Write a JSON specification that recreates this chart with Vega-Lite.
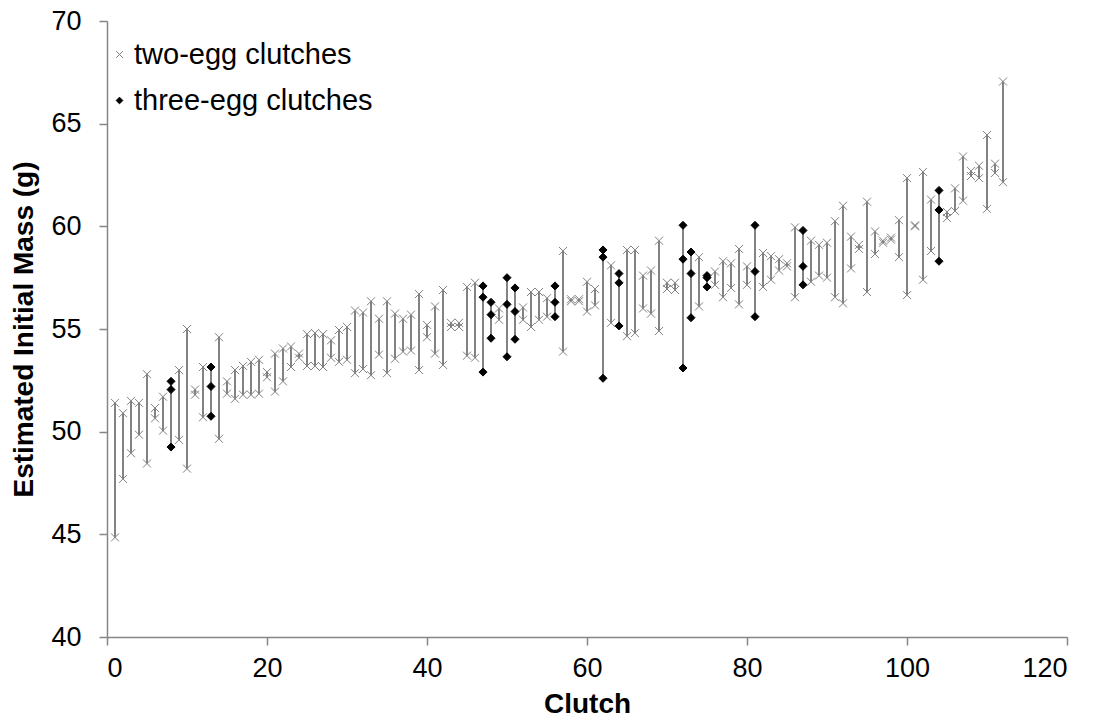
{
  "$schema": "https://vega.github.io/schema/vega-lite/v6.json",
  "width": 960,
  "height": 616,
  "autosize": {"type": "none"},
  "padding": {"left": 107, "top": 21, "right": 27, "bottom": 81},
  "background": "white",
  "config": {
    "view": {"stroke": null},
    "font": "Liberation Sans",
    "axis": {
      "grid": false,
      "domainColor": "#868686",
      "domainWidth": 1.5,
      "tickColor": "#868686",
      "tickWidth": 1.5,
      "tickSize": 8,
      "labelFont": "Liberation Sans",
      "labelFontSize": 27,
      "labelColor": "#000000",
      "titleFont": "Liberation Sans",
      "titleFontSize": 28,
      "titleFontWeight": "bold",
      "titleColor": "#000000"
    },
    "legend": {
      "labelFont": "Liberation Sans",
      "labelFontSize": 29,
      "labelColor": "#000000",
      "labelLimit": 0
    }
  },
  "data": {"values": [
    {"clutch":1,"mass":51.4,"type":"two-egg clutches"},{"clutch":1,"mass":44.85,"type":"two-egg clutches"},
    {"clutch":2,"mass":50.9,"type":"two-egg clutches"},{"clutch":2,"mass":47.7,"type":"two-egg clutches"},
    {"clutch":3,"mass":51.5,"type":"two-egg clutches"},{"clutch":3,"mass":48.95,"type":"two-egg clutches"},
    {"clutch":4,"mass":51.4,"type":"two-egg clutches"},{"clutch":4,"mass":49.85,"type":"two-egg clutches"},
    {"clutch":5,"mass":52.8,"type":"two-egg clutches"},{"clutch":5,"mass":48.45,"type":"two-egg clutches"},
    {"clutch":6,"mass":51.15,"type":"two-egg clutches"},{"clutch":6,"mass":50.65,"type":"two-egg clutches"},
    {"clutch":7,"mass":51.7,"type":"two-egg clutches"},{"clutch":7,"mass":50.05,"type":"two-egg clutches"},
    {"clutch":8,"mass":52.45,"type":"three-egg clutches"},{"clutch":8,"mass":52.05,"type":"three-egg clutches"},{"clutch":8,"mass":49.25,"type":"three-egg clutches"},
    {"clutch":9,"mass":53.0,"type":"two-egg clutches"},{"clutch":9,"mass":49.6,"type":"two-egg clutches"},
    {"clutch":10,"mass":55.0,"type":"two-egg clutches"},{"clutch":10,"mass":48.2,"type":"two-egg clutches"},
    {"clutch":11,"mass":52.05,"type":"two-egg clutches"},{"clutch":11,"mass":51.8,"type":"two-egg clutches"},
    {"clutch":12,"mass":53.15,"type":"two-egg clutches"},{"clutch":12,"mass":50.7,"type":"two-egg clutches"},
    {"clutch":13,"mass":53.15,"type":"three-egg clutches"},{"clutch":13,"mass":52.2,"type":"three-egg clutches"},{"clutch":13,"mass":50.75,"type":"three-egg clutches"},
    {"clutch":14,"mass":54.6,"type":"two-egg clutches"},{"clutch":14,"mass":49.65,"type":"two-egg clutches"},
    {"clutch":15,"mass":52.45,"type":"two-egg clutches"},{"clutch":15,"mass":51.85,"type":"two-egg clutches"},
    {"clutch":16,"mass":53.0,"type":"two-egg clutches"},{"clutch":16,"mass":51.6,"type":"two-egg clutches"},
    {"clutch":17,"mass":53.2,"type":"two-egg clutches"},{"clutch":17,"mass":51.8,"type":"two-egg clutches"},
    {"clutch":18,"mass":53.4,"type":"two-egg clutches"},{"clutch":18,"mass":51.8,"type":"two-egg clutches"},
    {"clutch":19,"mass":53.5,"type":"two-egg clutches"},{"clutch":19,"mass":51.85,"type":"two-egg clutches"},
    {"clutch":20,"mass":52.9,"type":"two-egg clutches"},{"clutch":20,"mass":52.65,"type":"two-egg clutches"},
    {"clutch":21,"mass":53.8,"type":"two-egg clutches"},{"clutch":21,"mass":51.95,"type":"two-egg clutches"},
    {"clutch":22,"mass":54.05,"type":"two-egg clutches"},{"clutch":22,"mass":52.45,"type":"two-egg clutches"},
    {"clutch":23,"mass":54.15,"type":"two-egg clutches"},{"clutch":23,"mass":53.15,"type":"two-egg clutches"},
    {"clutch":24,"mass":53.8,"type":"two-egg clutches"},{"clutch":24,"mass":53.6,"type":"two-egg clutches"},
    {"clutch":25,"mass":54.75,"type":"two-egg clutches"},{"clutch":25,"mass":53.2,"type":"two-egg clutches"},
    {"clutch":26,"mass":54.8,"type":"two-egg clutches"},{"clutch":26,"mass":53.2,"type":"two-egg clutches"},
    {"clutch":27,"mass":54.75,"type":"two-egg clutches"},{"clutch":27,"mass":53.15,"type":"two-egg clutches"},
    {"clutch":28,"mass":54.45,"type":"two-egg clutches"},{"clutch":28,"mass":53.6,"type":"two-egg clutches"},
    {"clutch":29,"mass":54.95,"type":"two-egg clutches"},{"clutch":29,"mass":53.4,"type":"two-egg clutches"},
    {"clutch":30,"mass":55.1,"type":"two-egg clutches"},{"clutch":30,"mass":53.5,"type":"two-egg clutches"},
    {"clutch":31,"mass":55.9,"type":"two-egg clutches"},{"clutch":31,"mass":52.85,"type":"two-egg clutches"},
    {"clutch":32,"mass":55.8,"type":"two-egg clutches"},{"clutch":32,"mass":53.05,"type":"two-egg clutches"},
    {"clutch":33,"mass":56.35,"type":"two-egg clutches"},{"clutch":33,"mass":52.75,"type":"two-egg clutches"},
    {"clutch":34,"mass":55.5,"type":"two-egg clutches"},{"clutch":34,"mass":53.75,"type":"two-egg clutches"},
    {"clutch":35,"mass":56.35,"type":"two-egg clutches"},{"clutch":35,"mass":52.85,"type":"two-egg clutches"},
    {"clutch":36,"mass":55.75,"type":"two-egg clutches"},{"clutch":36,"mass":53.55,"type":"two-egg clutches"},
    {"clutch":37,"mass":55.5,"type":"two-egg clutches"},{"clutch":37,"mass":53.9,"type":"two-egg clutches"},
    {"clutch":38,"mass":55.7,"type":"two-egg clutches"},{"clutch":38,"mass":53.95,"type":"two-egg clutches"},
    {"clutch":39,"mass":56.7,"type":"two-egg clutches"},{"clutch":39,"mass":53.0,"type":"two-egg clutches"},
    {"clutch":40,"mass":55.2,"type":"two-egg clutches"},{"clutch":40,"mass":54.6,"type":"two-egg clutches"},
    {"clutch":41,"mass":56.1,"type":"two-egg clutches"},{"clutch":41,"mass":53.8,"type":"two-egg clutches"},
    {"clutch":42,"mass":56.9,"type":"two-egg clutches"},{"clutch":42,"mass":53.25,"type":"two-egg clutches"},
    {"clutch":43,"mass":55.3,"type":"two-egg clutches"},{"clutch":43,"mass":55.1,"type":"two-egg clutches"},
    {"clutch":44,"mass":55.3,"type":"two-egg clutches"},{"clutch":44,"mass":55.1,"type":"two-egg clutches"},
    {"clutch":45,"mass":57.05,"type":"two-egg clutches"},{"clutch":45,"mass":53.7,"type":"two-egg clutches"},
    {"clutch":46,"mass":57.25,"type":"two-egg clutches"},{"clutch":46,"mass":53.6,"type":"two-egg clutches"},
    {"clutch":47,"mass":57.1,"type":"three-egg clutches"},{"clutch":47,"mass":56.55,"type":"three-egg clutches"},{"clutch":47,"mass":52.9,"type":"three-egg clutches"},
    {"clutch":48,"mass":56.3,"type":"three-egg clutches"},{"clutch":48,"mass":55.7,"type":"three-egg clutches"},{"clutch":48,"mass":54.55,"type":"three-egg clutches"},
    {"clutch":49,"mass":56.0,"type":"two-egg clutches"},{"clutch":49,"mass":55.45,"type":"two-egg clutches"},
    {"clutch":50,"mass":57.5,"type":"three-egg clutches"},{"clutch":50,"mass":56.2,"type":"three-egg clutches"},{"clutch":50,"mass":53.65,"type":"three-egg clutches"},
    {"clutch":51,"mass":57.0,"type":"three-egg clutches"},{"clutch":51,"mass":55.85,"type":"three-egg clutches"},{"clutch":51,"mass":54.5,"type":"three-egg clutches"},
    {"clutch":52,"mass":56.05,"type":"two-egg clutches"},{"clutch":52,"mass":55.45,"type":"two-egg clutches"},
    {"clutch":53,"mass":56.8,"type":"two-egg clutches"},{"clutch":53,"mass":55.1,"type":"two-egg clutches"},
    {"clutch":54,"mass":56.8,"type":"two-egg clutches"},{"clutch":54,"mass":55.45,"type":"two-egg clutches"},
    {"clutch":55,"mass":56.5,"type":"two-egg clutches"},{"clutch":55,"mass":55.6,"type":"two-egg clutches"},
    {"clutch":56,"mass":57.1,"type":"three-egg clutches"},{"clutch":56,"mass":56.3,"type":"three-egg clutches"},{"clutch":56,"mass":55.6,"type":"three-egg clutches"},
    {"clutch":57,"mass":58.8,"type":"two-egg clutches"},{"clutch":57,"mass":53.9,"type":"two-egg clutches"},
    {"clutch":58,"mass":56.45,"type":"two-egg clutches"},{"clutch":58,"mass":56.35,"type":"two-egg clutches"},
    {"clutch":59,"mass":56.45,"type":"two-egg clutches"},{"clutch":59,"mass":56.35,"type":"two-egg clutches"},
    {"clutch":60,"mass":57.3,"type":"two-egg clutches"},{"clutch":60,"mass":55.85,"type":"two-egg clutches"},
    {"clutch":61,"mass":56.95,"type":"two-egg clutches"},{"clutch":61,"mass":56.15,"type":"two-egg clutches"},
    {"clutch":62,"mass":58.85,"type":"three-egg clutches"},{"clutch":62,"mass":58.5,"type":"three-egg clutches"},{"clutch":62,"mass":52.6,"type":"three-egg clutches"},
    {"clutch":63,"mass":58.1,"type":"two-egg clutches"},{"clutch":63,"mass":55.3,"type":"two-egg clutches"},
    {"clutch":64,"mass":57.7,"type":"three-egg clutches"},{"clutch":64,"mass":57.25,"type":"three-egg clutches"},{"clutch":64,"mass":55.15,"type":"three-egg clutches"},
    {"clutch":65,"mass":58.85,"type":"two-egg clutches"},{"clutch":65,"mass":54.65,"type":"two-egg clutches"},
    {"clutch":66,"mass":58.85,"type":"two-egg clutches"},{"clutch":66,"mass":54.8,"type":"two-egg clutches"},
    {"clutch":67,"mass":57.6,"type":"two-egg clutches"},{"clutch":67,"mass":56.0,"type":"two-egg clutches"},
    {"clutch":68,"mass":57.85,"type":"two-egg clutches"},{"clutch":68,"mass":55.75,"type":"two-egg clutches"},
    {"clutch":69,"mass":59.3,"type":"two-egg clutches"},{"clutch":69,"mass":54.9,"type":"two-egg clutches"},
    {"clutch":70,"mass":57.25,"type":"two-egg clutches"},{"clutch":70,"mass":56.95,"type":"two-egg clutches"},
    {"clutch":71,"mass":57.25,"type":"two-egg clutches"},{"clutch":71,"mass":56.9,"type":"two-egg clutches"},
    {"clutch":72,"mass":60.05,"type":"three-egg clutches"},{"clutch":72,"mass":58.4,"type":"three-egg clutches"},{"clutch":72,"mass":53.1,"type":"three-egg clutches"},
    {"clutch":73,"mass":58.75,"type":"three-egg clutches"},{"clutch":73,"mass":57.7,"type":"three-egg clutches"},{"clutch":73,"mass":55.55,"type":"three-egg clutches"},
    {"clutch":74,"mass":58.5,"type":"two-egg clutches"},{"clutch":74,"mass":56.1,"type":"two-egg clutches"},
    {"clutch":75,"mass":57.6,"type":"three-egg clutches"},{"clutch":75,"mass":57.5,"type":"three-egg clutches"},{"clutch":75,"mass":57.05,"type":"three-egg clutches"},
    {"clutch":76,"mass":57.8,"type":"two-egg clutches"},{"clutch":76,"mass":57.15,"type":"two-egg clutches"},
    {"clutch":77,"mass":58.3,"type":"two-egg clutches"},{"clutch":77,"mass":56.55,"type":"two-egg clutches"},
    {"clutch":78,"mass":58.2,"type":"two-egg clutches"},{"clutch":78,"mass":57.0,"type":"two-egg clutches"},
    {"clutch":79,"mass":58.9,"type":"two-egg clutches"},{"clutch":79,"mass":56.2,"type":"two-egg clutches"},
    {"clutch":80,"mass":58.05,"type":"two-egg clutches"},{"clutch":80,"mass":57.15,"type":"two-egg clutches"},
    {"clutch":81,"mass":60.05,"type":"three-egg clutches"},{"clutch":81,"mass":57.8,"type":"three-egg clutches"},{"clutch":81,"mass":55.6,"type":"three-egg clutches"},
    {"clutch":82,"mass":58.7,"type":"two-egg clutches"},{"clutch":82,"mass":57.05,"type":"two-egg clutches"},
    {"clutch":83,"mass":58.55,"type":"two-egg clutches"},{"clutch":83,"mass":57.4,"type":"two-egg clutches"},
    {"clutch":84,"mass":58.4,"type":"two-egg clutches"},{"clutch":84,"mass":57.85,"type":"two-egg clutches"},
    {"clutch":85,"mass":58.2,"type":"two-egg clutches"},{"clutch":85,"mass":58.05,"type":"two-egg clutches"},
    {"clutch":86,"mass":59.95,"type":"two-egg clutches"},{"clutch":86,"mass":56.55,"type":"two-egg clutches"},
    {"clutch":87,"mass":59.8,"type":"three-egg clutches"},{"clutch":87,"mass":58.05,"type":"three-egg clutches"},{"clutch":87,"mass":57.15,"type":"three-egg clutches"},
    {"clutch":88,"mass":59.3,"type":"two-egg clutches"},{"clutch":88,"mass":57.3,"type":"two-egg clutches"},
    {"clutch":89,"mass":59.1,"type":"two-egg clutches"},{"clutch":89,"mass":57.6,"type":"two-egg clutches"},
    {"clutch":90,"mass":59.2,"type":"two-egg clutches"},{"clutch":90,"mass":57.5,"type":"two-egg clutches"},
    {"clutch":91,"mass":60.25,"type":"two-egg clutches"},{"clutch":91,"mass":56.55,"type":"two-egg clutches"},
    {"clutch":92,"mass":61.0,"type":"two-egg clutches"},{"clutch":92,"mass":56.25,"type":"two-egg clutches"},
    {"clutch":93,"mass":59.5,"type":"two-egg clutches"},{"clutch":93,"mass":57.95,"type":"two-egg clutches"},
    {"clutch":94,"mass":59.1,"type":"two-egg clutches"},{"clutch":94,"mass":58.9,"type":"two-egg clutches"},
    {"clutch":95,"mass":61.2,"type":"two-egg clutches"},{"clutch":95,"mass":56.8,"type":"two-egg clutches"},
    {"clutch":96,"mass":59.75,"type":"two-egg clutches"},{"clutch":96,"mass":58.65,"type":"two-egg clutches"},
    {"clutch":97,"mass":59.3,"type":"two-egg clutches"},{"clutch":97,"mass":59.2,"type":"two-egg clutches"},
    {"clutch":98,"mass":59.45,"type":"two-egg clutches"},{"clutch":98,"mass":59.35,"type":"two-egg clutches"},
    {"clutch":99,"mass":60.3,"type":"two-egg clutches"},{"clutch":99,"mass":58.5,"type":"two-egg clutches"},
    {"clutch":100,"mass":62.35,"type":"two-egg clutches"},{"clutch":100,"mass":56.65,"type":"two-egg clutches"},
    {"clutch":101,"mass":60.05,"type":"two-egg clutches"},{"clutch":101,"mass":60.0,"type":"two-egg clutches"},
    {"clutch":102,"mass":62.65,"type":"two-egg clutches"},{"clutch":102,"mass":57.4,"type":"two-egg clutches"},
    {"clutch":103,"mass":61.3,"type":"two-egg clutches"},{"clutch":103,"mass":58.8,"type":"two-egg clutches"},
    {"clutch":104,"mass":61.75,"type":"three-egg clutches"},{"clutch":104,"mass":60.8,"type":"three-egg clutches"},{"clutch":104,"mass":58.3,"type":"three-egg clutches"},
    {"clutch":105,"mass":60.7,"type":"two-egg clutches"},{"clutch":105,"mass":60.4,"type":"two-egg clutches"},
    {"clutch":106,"mass":61.85,"type":"two-egg clutches"},{"clutch":106,"mass":60.75,"type":"two-egg clutches"},
    {"clutch":107,"mass":63.4,"type":"two-egg clutches"},{"clutch":107,"mass":61.25,"type":"two-egg clutches"},
    {"clutch":108,"mass":62.7,"type":"two-egg clutches"},{"clutch":108,"mass":62.45,"type":"two-egg clutches"},
    {"clutch":109,"mass":62.95,"type":"two-egg clutches"},{"clutch":109,"mass":62.35,"type":"two-egg clutches"},
    {"clutch":110,"mass":64.45,"type":"two-egg clutches"},{"clutch":110,"mass":60.85,"type":"two-egg clutches"},
    {"clutch":111,"mass":63.05,"type":"two-egg clutches"},{"clutch":111,"mass":62.6,"type":"two-egg clutches"},
    {"clutch":112,"mass":67.05,"type":"two-egg clutches"},{"clutch":112,"mass":62.15,"type":"two-egg clutches"}
  ]},
  "layer": [
    {
      "transform": [
        {"aggregate": [{"op": "min", "field": "mass", "as": "lo"}, {"op": "max", "field": "mass", "as": "hi"}], "groupby": ["clutch"]}
      ],
      "mark": {"type": "rule", "strokeWidth": 1.2, "color": "#303030"},
      "encoding": {
        "x": {"field": "clutch", "type": "quantitative", "scale": {"domain": [0, 120], "nice": false}},
        "y": {"field": "lo", "type": "quantitative", "scale": {"domain": [40, 70], "nice": false}},
        "y2": {"field": "hi"}
      }
    },
    {
      "mark": {"type": "point", "strokeWidth": 1, "opacity": 1},
      "encoding": {
        "x": {"field": "clutch", "type": "quantitative", "scale": {"domain": [0, 120], "nice": false},
              "axis": {"title": "Clutch", "values": [0, 20, 40, 60, 80, 100, 120], "labelPadding": 10, "titlePadding": 9}},
        "y": {"field": "mass", "type": "quantitative", "scale": {"domain": [40, 70], "nice": false},
              "axis": {"title": "Estimated Initial Mass (g)", "values": [40, 45, 50, 55, 60, 65, 70], "labelPadding": 18, "titlePadding": 12}},
        "shape": {"field": "type", "type": "nominal",
                  "scale": {"domain": ["two-egg clutches", "three-egg clutches"], "range": ["M-1,-1L1,1M-1,1L1,-1", "diamond"]},
                  "legend": {"title": null, "orient": "none", "legendX": -2, "legendY": 19, "rowPadding": 16, "symbolSize": 45, "labelOffset": 0, "symbolStrokeWidth": 1, "labelLimit": 0}},
        "stroke": {"field": "type", "type": "nominal",
                   "scale": {"domain": ["two-egg clutches", "three-egg clutches"], "range": ["#808080", "#000000"]},
                   "legend": {"title": null, "orient": "none", "legendX": -2, "legendY": 19, "rowPadding": 16, "symbolSize": 45, "labelOffset": 0, "symbolStrokeWidth": 1, "labelLimit": 0}},
        "fill": {"field": "type", "type": "nominal",
                 "scale": {"domain": ["two-egg clutches", "three-egg clutches"], "range": ["transparent", "#000000"]},
                 "legend": {"title": null, "orient": "none", "legendX": -2, "legendY": 19, "rowPadding": 16, "symbolSize": 45, "labelOffset": 0, "symbolStrokeWidth": 1, "labelLimit": 0}},
        "size": {"value": 64}
      }
    }
  ]
}
